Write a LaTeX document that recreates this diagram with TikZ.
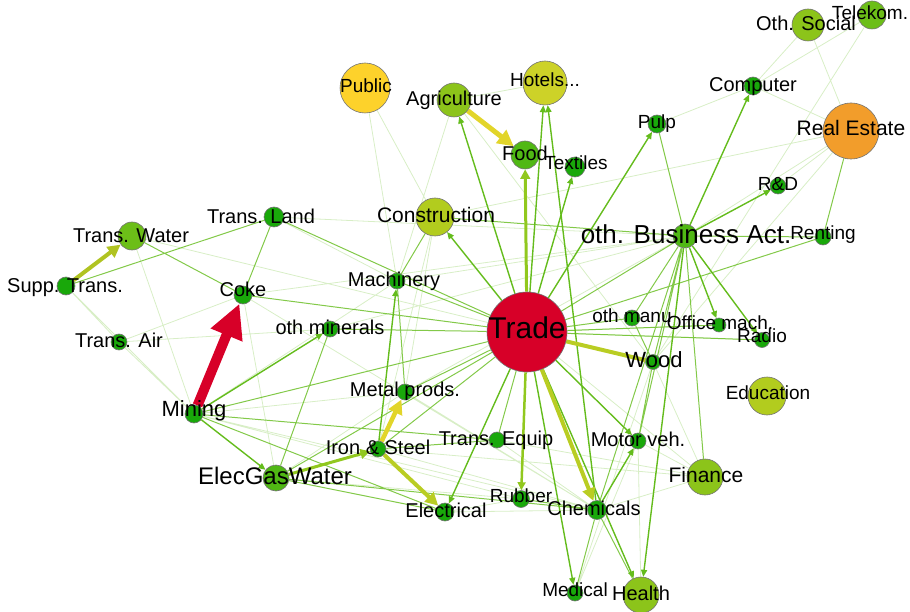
\documentclass[tikz,border=0pt]{standalone}
\usepackage{fontspec}
\setmainfont{Liberation Sans}
\usetikzlibrary{arrows.meta, backgrounds}

\definecolor{tradeRed}{RGB}{215,0,40}
\definecolor{estOrange}{RGB}{242,157,43}
\definecolor{pubYellow}{RGB}{253,210,43}
\definecolor{hotYel}{RGB}{205,210,40}
\definecolor{lime}{RGB}{178,204,30}
\definecolor{ygreen}{RGB}{140,196,26}
\definecolor{lgreen}{RGB}{108,190,24}
\definecolor{mgreen}{RGB}{80,184,20}
\definecolor{dgreen}{RGB}{25,168,10}
\definecolor{egreen}{RGB}{100,188,28}
\definecolor{flowYel}{RGB}{226,213,42}
\definecolor{flowLime}{RGB}{185,205,35}
\definecolor{flowLt}{RGB}{145,200,30}

\begin{document}
\begin{tikzpicture}[
  x=1pt, y=-1pt,
  vtx/.style={circle, draw=black!55, line width=0.6pt, inner sep=0pt},
  lbl/.style={font=\fontsize{20}{20}\selectfont, text height=14.4pt,
              text depth=0pt, inner sep=0pt},
  lblS/.style={font=\fontsize{19}{19}\selectfont, text height=13.7pt,
              text depth=0pt, inner sep=0pt},
  fe/.style={egreen, opacity=.25, line width=0.8pt},
  le/.style={egreen, opacity=.8, line width=1pt},
  ae/.style={egreen, line width=1.4pt, -{Triangle[length=7pt,width=6pt]}},
  heavy/.style={line width=#1, -{Triangle[length=3.2*#1,width=3.2*#1]}}
]
\useasboundingbox (0,0) rectangle (910,612);

% vertices
\node[vtx, minimum size=80pt, fill=tradeRed] (trade) at (527,332) {};
\node[vtx, minimum size=56pt, fill=estOrange] (realest) at (851,131) {};
\node[vtx, minimum size=50pt, fill=pubYellow] (public) at (365,88) {};
\node[vtx, minimum size=34pt, fill=ygreen] (agri) at (454,100) {};
\node[vtx, minimum size=44pt, fill=hotYel] (hotels) at (545,83) {};
\node[vtx, minimum size=28pt, fill=mgreen] (food) at (525,155) {};
\node[vtx, minimum size=20pt, fill=dgreen] (textiles) at (575,167) {};
\node[vtx, minimum size=38pt, fill=lime] (constr) at (435,217) {};
\node[vtx, minimum size=32pt, fill=ygreen] (othsoc) at (808,25) {};
\node[vtx, minimum size=28pt, fill=lgreen] (telekom) at (872,15) {};
\node[vtx, minimum size=18pt, fill=dgreen] (computer) at (753,86) {};
\node[vtx, minimum size=18pt, fill=dgreen] (pulp) at (657,124) {};
\node[vtx, minimum size=16pt, fill=dgreen] (rnd) at (778,186) {};
\node[vtx, minimum size=24pt, fill=mgreen] (othbus) at (685,236) {};
\node[vtx, minimum size=16pt, fill=dgreen] (renting) at (823,237) {};
\node[vtx, minimum size=28pt, fill=lgreen] (trwater) at (132,236) {};
\node[vtx, minimum size=20pt, fill=dgreen] (trland) at (274,217) {};
\node[vtx, minimum size=18pt, fill=dgreen] (supptr) at (66,286) {};
\node[vtx, minimum size=18pt, fill=dgreen] (coke) at (243,295) {};
\node[vtx, minimum size=16pt, fill=dgreen] (trair) at (119,342) {};
\node[vtx, minimum size=18pt, fill=dgreen] (mining) at (194,414) {};
\node[vtx, minimum size=16pt, fill=dgreen] (machin) at (397,281) {};
\node[vtx, minimum size=16pt, fill=dgreen] (othmin) at (330,329) {};
\node[vtx, minimum size=16pt, fill=dgreen] (metal) at (405,392) {};
\node[vtx, minimum size=16pt, fill=dgreen] (iron) at (378,449) {};
\node[vtx, minimum size=16pt, fill=dgreen] (trequip) at (497,440) {};
\node[vtx, minimum size=17pt, fill=dgreen] (rubber) at (521,499) {};
\node[vtx, minimum size=18pt, fill=dgreen] (electr) at (445,512) {};
\node[vtx, minimum size=26pt, fill=mgreen] (egw) at (276,478) {};
\node[vtx, minimum size=19pt, fill=dgreen] (chem) at (597,510) {};
\node[vtx, minimum size=16pt, fill=dgreen] (motor) at (638,441) {};
\node[vtx, minimum size=36pt, fill=ygreen] (finance) at (705,477) {};
\node[vtx, minimum size=16pt, fill=dgreen] (medical) at (575,593) {};
\node[vtx, minimum size=36pt, fill=ygreen] (health) at (641,595) {};
\node[vtx, minimum size=38pt, fill=lime] (educ) at (767,396) {};
\node[vtx, minimum size=16pt, fill=dgreen] (othmanu) at (632,318) {};
\node[vtx, minimum size=14pt, fill=dgreen] (office) at (719,325) {};
\node[vtx, minimum size=15pt, fill=dgreen] (radio) at (762,340) {};
\node[vtx, minimum size=15pt, fill=dgreen] (wood) at (653,362) {};

\begin{scope}[on background layer]
% faint links
\draw[fe] (supptr) -- (trair) (supptr) -- (mining) (trwater) -- (mining)
  (trwater) -- (trade) (trair) -- (mining) (trair) -- (othmin) (trair) -- (coke)
  (coke) -- (egw) (coke) -- (chem) (mining) -- (machin) (mining) -- (metal)
  (mining) -- (rubber) (mining) -- (chem) (egw) -- (metal) (egw) -- (rubber)
  (iron) -- (chem) (iron) -- (finance) (metal) -- (chem) (electr) -- (rubber)
  (electr) -- (chem) (trequip) -- (finance) (finance) -- (chem) (finance) -- (wood)
  (finance) -- (trade) (agri) -- (hotels) (agri) -- (machin) (agri) -- (wood)
  (public) -- (machin) (public) -- (constr) (trland) -- (othbus) (trland) -- (machin)
  (realest) -- (constr) (realest) -- (wood) (realest) -- (othsoc) (realest) -- (rnd)
  (computer) -- (pulp) (computer) -- (realest) (computer) -- (othsoc)
  (computer) -- (telekom) (telekom) -- (wood) (medical) -- (motor) (medical) -- (wood)
  (health) -- (motor) (othbus) -- (realest) (othbus) -- (machin) (othbus) -- (coke)
  (othbus) -- (othmin) (othbus) -- (metal) (trade) -- (radio) (trade) -- (office)
  (constr) -- (metal) (constr) -- (iron) (trequip) -- (chem) (motor) -- (finance);
% plain links
\draw[le] (coke) -- (trland) (coke) -- (trade) (supptr) -- (trland) (trwater) -- (coke)
  (trland) -- (trade) (constr) -- (othbus) (mining) -- (trade) (mining) -- (trequip)
  (mining) -- (electr) (egw) -- (electr) (egw) -- (chem) (egw) -- (othmin)
  (egw) -- (trade) (iron) -- (trade) (iron) -- (trequip) (metal) -- (trade)
  (othmin) -- (trade) (machin) -- (trade) (machin) -- (constr) (othmanu) -- (trade)
  (othmanu) -- (wood) (othbus) -- (trade) (othbus) -- (wood) (othbus) -- (othmanu)
  (othbus) -- (motor) (othbus) -- (chem) (othbus) -- (renting) (pulp) -- (othbus)
  (realest) -- (renting) (rubber) -- (chem) (chem) -- (health) (chem) -- (medical)
  (motor) -- (wood) (renting) -- (trade) (finance) -- (othbus) (metal) -- (machin)
  (trade) -- (trequip) (trade) -- (office) (trade) -- (radio);
% directed links
\draw[ae] (mining) -- (othmin);
\draw[ae] (mining) -- (egw);
\draw[ae] (trade) -- (hotels);
\draw[ae] (chem) -- (hotels);
\draw[ae] (trade) -- (constr);
\draw[ae] (trade) -- (agri);
\draw[ae] (trade) -- (pulp);
\draw[ae] (trade) -- (textiles);
\draw[ae] (othbus) -- (computer);
\draw[ae] (othbus) -- (rnd);
\draw[ae] (othbus) -- (office);
\draw[ae] (othbus) -- (radio);
\draw[ae] (iron) -- (machin);
\draw[ae] (chem) -- (motor);
\draw[ae] (trade) -- (motor);
\draw[ae] (trade) -- (medical);
\draw[ae] (trade) -- (health);
\draw[ae] (trade) -- (electr);
\draw[ae] (othbus) -- (health);
% strong flows
\draw[heavy=3pt, flowLt] (trade) -- (food);
\draw[heavy=2.5pt, flowLt] (trade) -- (rubber);
\draw[heavy=4pt, flowLime] (trade) -- (chem);
\draw[line width=4pt, flowLime] (trade) -- (wood);
\draw[heavy=3pt, flowLt] (egw) -- (iron);
\draw[heavy=4pt, flowLime] (iron) -- (electr);
\draw[heavy=4.5pt, flowYel] (iron) -- (metal);
\draw[heavy=5pt, flowYel] (agri) -- (food);
\draw[heavy=4pt, flowLime!95!black] (supptr) -- (trwater);
\draw[line width=10pt, tradeRed, -{Triangle[length=34pt,width=32pt]}] (mining) -- (coke);
\end{scope}

% labels
\node[lbl, font=\fontsize{30}{30}\selectfont, text height=21.6pt] (l-trade) at (527,328) {Trade};
\node[lbl, font=\fontsize{26}{26}\selectfont, text height=18.7pt] (l-othbus) at (686,234) {oth. Business Act.};
\node[lbl, font=\fontsize{24}{24}\selectfont, text height=17.3pt] (l-egw) at (275,476) {ElecGasWater};
\node[lbl, font=\fontsize{22}{22}\selectfont, text height=15.8pt] (l-mining) at (194,409) {Mining};
\node[lbl, font=\fontsize{22}{22}\selectfont, text height=15.8pt] (l-wood) at (654,360) {Wood};
\node[lbl, font=\fontsize{21}{21}\selectfont, text height=15.1pt] (l-realest) at (851,128) {Real Estate};
\node[lbl, font=\fontsize{21}{21}\selectfont, text height=15.1pt] (l-finance) at (706,475) {Finance};
\node[lbl, font=\fontsize{21}{21}\selectfont, text height=15.1pt] (l-constr) at (436,215) {Construction};
\node[lbl] (l-trwater) at (131,235) {Trans. Water};
\node[lbl] (l-trland) at (261,216) {Trans. Land};
\node[lbl] (l-supptr) at (65,285) {Supp. Trans.};
\node[lbl] (l-coke) at (243,289) {Coke};
\node[lbl] (l-trair) at (119,340) {Trans. Air};
\node[lbl] (l-machin) at (394,279) {Machinery};
\node[lbl] (l-othmin) at (330,327) {oth minerals};
\node[lbl] (l-metal) at (405,389) {Metal prods.};
\node[lbl] (l-iron) at (378,447) {Iron \& Steel};
\node[lbl] (l-trequip) at (496,438) {Trans. Equip};
\node[lbl] (l-electr) at (446,510) {Electrical};
\node[lbl] (l-chem) at (594,508) {Chemicals};
\node[lbl] (l-motor) at (638,439) {Motor veh.};
\node[lbl] (l-health) at (641,593) {Health};
\node[lbl] (l-computer) at (753,84) {Computer};
\node[lbl] (l-othsoc) at (806,23) {Oth. Social};
\node[lbl] (l-agri) at (454,98) {Agriculture};
\node[lbl] (l-food) at (525,153) {Food};
\node[lblS] (l-telekom) at (870,13) {Telekom.};
\node[lblS] (l-public) at (366,86) {Public};
\node[lblS] (l-hotels) at (545,80) {Hotels...};
\node[lblS] (l-textiles) at (576,163) {Textiles};
\node[lblS] (l-pulp) at (657,122) {Pulp};
\node[lblS] (l-rnd) at (778,184) {R\&D};
\node[lblS] (l-renting) at (823,233) {Renting};
\node[lblS] (l-othmanu) at (632,316) {oth manu};
\node[lblS] (l-office) at (720,323) {Office mach.};
\node[lblS] (l-radio) at (762,336) {Radio};
\node[lblS] (l-educ) at (768,393) {Education};
\node[lblS] (l-rubber) at (521,496) {Rubber};
\node[lblS] (l-medical) at (575,590) {Medical};
\end{tikzpicture}
\end{document}
